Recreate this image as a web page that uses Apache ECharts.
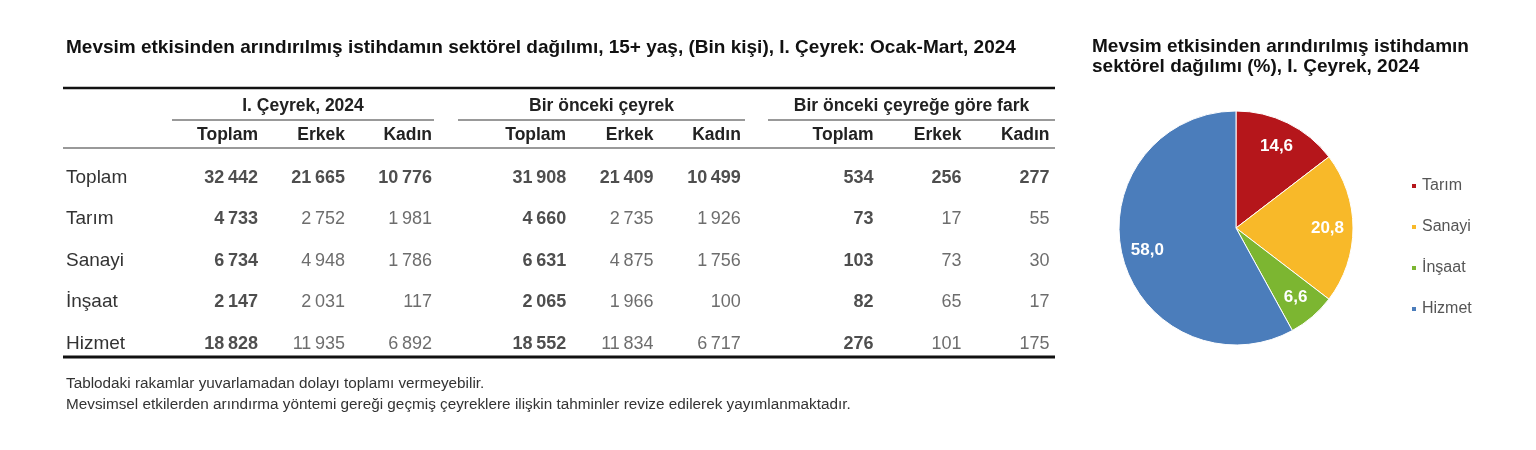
<!DOCTYPE html>
<html>
<head>
<meta charset="utf-8">
<script src="https://cdn.jsdelivr.net/npm/echarts@6/dist/echarts.min.js"></script>
<style>
html, body { margin: 0; background: #fff; }
#main { width: 1536px; height: 450px; }
</style>
</head>
<body>
<div id="main"></div>
<script>
// Tablo verileri (Bin kişi)
var rowNames = ['Toplam', 'Tarım', 'Sanayi', 'İnşaat', 'Hizmet'];
var colNames = ['Toplam', 'Erkek', 'Kadın'];
var groupNames = ['I. Çeyrek, 2024', 'Bir önceki çeyrek', 'Bir önceki çeyreğe göre fark'];

// I. Çeyrek, 2024
var curToplam = [32442, 4733, 6734, 2147, 18828];
var curErkek  = [21665, 2752, 4948, 2031, 11935];
var curKadin  = [10776, 1981, 1786, 117, 6892];
// Bir önceki çeyrek
var prevToplam = [31908, 4660, 6631, 2065, 18552];
var prevErkek  = [21409, 2735, 4875, 1966, 11834];
var prevKadin  = [10499, 1926, 1756, 100, 6717];
// Bir önceki çeyreğe göre fark
var diffToplam = [534, 73, 103, 82, 276];
var diffErkek  = [256, 17, 73, 65, 101];
var diffKadin  = [277, 55, 30, 17, 175];

// Pasta grafik (%)
var pieNames  = ['Tarım', 'Sanayi', 'İnşaat', 'Hizmet'];
var pieValues = [14.6, 20.8, 6.6, 58.0];
var pieColors = ['#B5161B', '#F8B929', '#7CB631', '#4B7DBB'];

var FONT = '"Liberation Sans", Arial, sans-serif';
var groups = [
    [curToplam, curErkek, curKadin],
    [prevToplam, prevErkek, prevKadin],
    [diffToplam, diffErkek, diffKadin]
];

// yerleşim
var gridLefts  = [171, 479, 786];
var gridWidths = [261, 262, 264];
var underlines = [[172, 434], [458, 745], [768, 1055]];
var tableTop = 157, tableHeight = 207.5;

function fmt(v) {
    return String(v).replace(/\B(?=(\d{3})+(?!\d))/g, '\u2009');
}

var richCell = {
    b: { width: 87, align: 'right', fontFamily: FONT, fontSize: 18, fontWeight: 'bold', color: '#222' },
    n: { width: 87, align: 'right', fontFamily: FONT, fontSize: 18, color: '#484848' }
};

var grid = [], xAxis = [], yAxis = [], series = [];
groups.forEach(function (cols, g) {
    grid.push({ left: gridLefts[g], width: gridWidths[g], top: tableTop, height: tableHeight });
    xAxis.push({
        type: 'category', gridIndex: g, data: colNames, position: 'top',
        axisLine: { show: false }, axisTick: { show: false }, splitLine: { show: false },
        axisLabel: {
            interval: 0, margin: 22, verticalAlign: 'middle',
            formatter: '{h|{value}}',
            rich: { h: { width: 87, align: 'right', fontFamily: FONT, fontSize: 17.5, fontWeight: 'bold', color: '#222' } }
        }
    });
    yAxis.push({
        type: 'category', gridIndex: g, data: rowNames, inverse: true,
        axisLine: { show: false }, axisTick: { show: false }, splitLine: { show: false },
        axisLabel: { show: g === 0, align: 'left', margin: 105, fontFamily: FONT, fontSize: 19, color: '#333' }
    });
    var data = [];
    cols.forEach(function (vals, c) {
        vals.forEach(function (v, r) { data.push([c, r, v]); });
    });
    series.push({
        type: 'scatter', xAxisIndex: g, yAxisIndex: g, data: data,
        symbolSize: 1, silent: true,
        itemStyle: { color: 'rgba(0,0,0,0)' },
        label: {
            show: true, position: 'inside',
            formatter: function (p) {
                var bold = p.data[0] === 0 || p.data[1] === 0;
                return '{' + (bold ? 'b' : 'n') + '|' + fmt(p.data[2]) + '}';
            },
            rich: richCell
        }
    });
});

var pieData = pieNames.map(function (n, i) {
    return { name: n, value: pieValues[i], itemStyle: { color: pieColors[i] } };
});

// çizgiler ve grup başlıkları
var graphic = [
    { type: 'line', shape: { x1: 63, y1: 88, x2: 1055, y2: 88 }, style: { stroke: '#111', lineWidth: 2.5 } },
    { type: 'line', shape: { x1: 63, y1: 148, x2: 1055, y2: 148 }, style: { stroke: '#777', lineWidth: 1.5 } },
    { type: 'line', shape: { x1: 63, y1: 357, x2: 1055, y2: 357 }, style: { stroke: '#111', lineWidth: 3 } }
];
underlines.forEach(function (u, g) {
    graphic.push({ type: 'line', shape: { x1: u[0], y1: 120, x2: u[1], y2: 120 }, style: { stroke: '#777', lineWidth: 1.5 } });
    graphic.push({
        type: 'text', x: (u[0] + u[1]) / 2, y: 106,
        style: { text: groupNames[g], align: 'center', verticalAlign: 'middle', font: 'bold 17.5px ' + FONT, fill: '#222' }
    });
});

series.push({
    name: 'Dağılım', type: 'pie', center: [1236, 228], radius: [0, 117],
    startAngle: 90, silent: true,
    itemStyle: { borderColor: '#fff', borderWidth: 1 },
    label: { show: false }, labelLine: { show: false },
    data: pieData
});
// etiketler için şeffaf halka
series.push({
    name: 'Etiket', type: 'pie', center: [1236, 228], radius: [60, 117],
    startAngle: 90, silent: true,
    itemStyle: { color: 'rgba(0,0,0,0)' },
    label: {
        show: true, position: 'inside', fontFamily: FONT, fontSize: 17, fontWeight: 'bold', color: '#fff',
        formatter: function (p) { return p.value.toFixed(1).replace('.', ','); }
    },
    labelLine: { show: false },
    data: pieNames.map(function (n, i) { return { name: n, value: pieValues[i] }; })
});

var myChart = echarts.init(document.getElementById('main'));
var option = {
    backgroundColor: '#fff',
    animation: false,
    title: [
        {
            text: 'Mevsim etkisinden arındırılmış istihdamın sektörel dağılımı, 15+ yaş, (Bin kişi), I. Çeyrek: Ocak-Mart, 2024',
            left: 66, top: 38, padding: 0,
            textStyle: { fontFamily: FONT, fontSize: 19, fontWeight: 'bold', color: '#111' }
        },
        {
            text: 'Mevsim etkisinden arındırılmış istihdamın\nsektörel dağılımı (%), I. Çeyrek, 2024',
            left: 1092, top: 37, padding: 0,
            textStyle: { fontFamily: FONT, fontSize: 19, fontWeight: 'bold', color: '#111', lineHeight: 20 }
        },
        {
            text: 'Tablodaki rakamlar yuvarlamadan dolayı toplamı vermeyebilir.\nMevsimsel etkilerden arındırma yöntemi gereği geçmiş çeyreklere ilişkin tahminler revize edilerek yayımlanmaktadır.',
            left: 66, top: 373, padding: 0,
            textStyle: { fontFamily: FONT, fontSize: 15.3, fontWeight: 'normal', color: '#333', lineHeight: 21 }
        }
    ],
    legend: {
        orient: 'vertical', left: 1410, top: 178, padding: 0,
        data: pieNames, icon: 'rect', itemWidth: 6, itemHeight: 6, itemGap: 25,
        textStyle: { fontFamily: FONT, fontSize: 16, color: '#555' }
    },
    grid: grid,
    xAxis: xAxis,
    yAxis: yAxis,
    graphic: graphic,
    series: series
};
myChart.setOption(option);
</script>
</body>
</html>
